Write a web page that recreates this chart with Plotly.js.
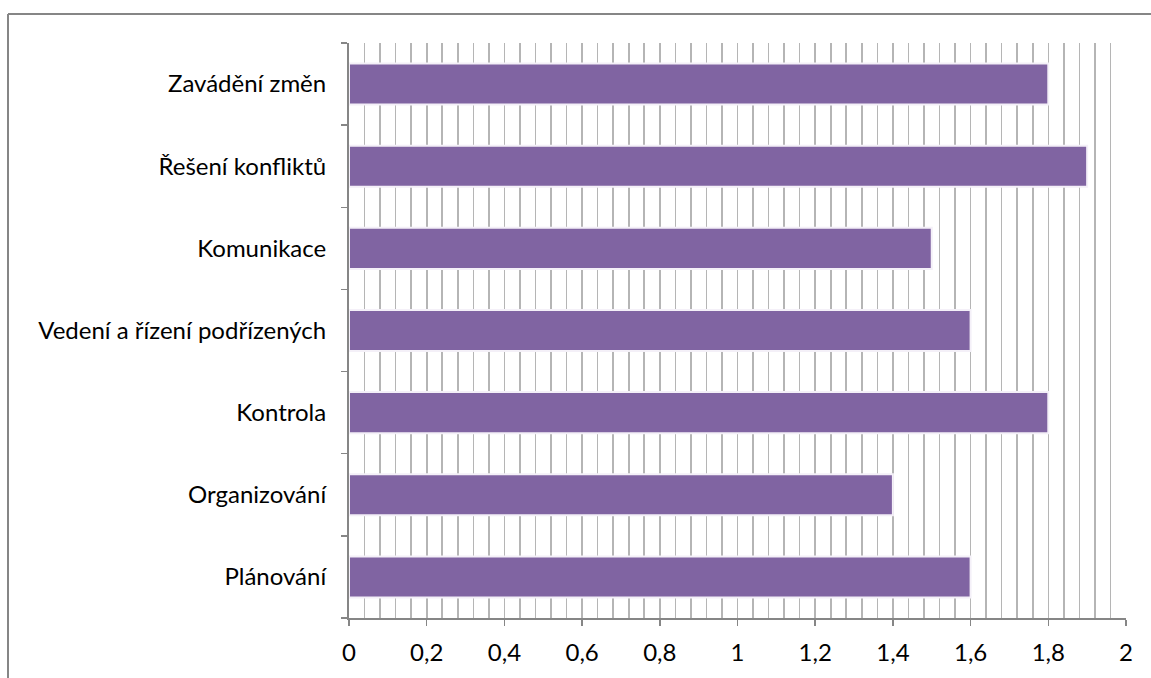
<!DOCTYPE html>
<html>
<head>
<meta charset="utf-8">
<script src="https://cdn.plot.ly/plotly-3.0.1.min.js"></script>
<style>
  html, body { margin: 0; padding: 0; background: #ffffff; }
  #chart { width: 1151px; height: 678px; }
</style>
</head>
<body>
<div id="chart"></div>
<script>
// Manažerské dovednosti – průměrné hodnocení
const categories = [
  "Plánování",
  "Organizování",
  "Kontrola",
  "Vedení a řízení podřízených",
  "Komunikace",
  "Řešení konfliktů",
  "Zavádění změn"
];
const values = [1.6, 1.4, 1.8, 1.6, 1.5, 1.9, 1.8];
const xTickValues = [0, 0.2, 0.4, 0.6, 0.8, 1, 1.2, 1.4, 1.6, 1.8, 2];

const barColor = "#8064A2";
const axisColor = "#868686";
const gridColor = "#b5b5b5";

const plotLeft = 349, plotRight = 1126, plotTop = 43, plotBottom = 618;
const W = 1151, H = 678;
const pw = plotRight - plotLeft, ph = plotBottom - plotTop;
// frame around the chart area, in paper units
const fx0 = (8 - plotLeft) / pw;
const fx1 = (1160 - plotLeft) / pw;
const fyTop = (plotBottom - 14) / ph;
const fyBot = (plotBottom - 700) / ph;

const trace = {
  type: "bar",
  orientation: "h",
  y: categories,
  x: values,
  marker: {
    color: barColor,
    line: { color: "#f4f0f8", width: 2 }
  },
  hoverinfo: "x+y"
};

const layout = {
  width: W,
  height: H,
  margin: { l: plotLeft, r: W - plotRight, t: plotTop, b: H - plotBottom, pad: 0 },
  paper_bgcolor: "#ffffff",
  plot_bgcolor: "#ffffff",
  separators: ",.",
  bargap: 0.5,
  showlegend: false,
  font: { family: "Lato, 'Open Sans', sans-serif", size: 24, color: "#000000" },
  xaxis: {
    range: [0, 2],
    tickvals: xTickValues,
    tickformat: ".1~f",
    ticks: "outside",
    ticklen: 6,
    tickwidth: 1.5,
    tickcolor: axisColor,
    showline: true,
    linecolor: axisColor,
    linewidth: 2,
    showgrid: true,
    gridcolor: gridColor,
    gridwidth: 1.6,
    minor: { dtick: 0.04, tick0: 0, showgrid: true, gridcolor: gridColor, gridwidth: 1.6, ticks: "" },
    zeroline: false,
    ticklabelstandoff: 6,
    fixedrange: true
  },
  yaxis: {
    type: "category",
    ticks: "outside",
    tickson: "boundaries",
    ticklen: 6,
    tickwidth: 1.5,
    tickcolor: axisColor,
    showline: true,
    linecolor: axisColor,
    linewidth: 2,
    showgrid: false,
    zeroline: false,
    ticklabelstandoff: 16,
    fixedrange: true
  },
  shapes: [
    { type: "line", xref: "paper", yref: "paper", x0: fx0, x1: fx1, y0: fyTop, y1: fyTop,
      line: { color: axisColor, width: 2 } },
    { type: "line", xref: "paper", yref: "paper", x0: fx0, x1: fx0, y0: fyTop, y1: fyBot,
      line: { color: axisColor, width: 2 } }
  ]
};

Plotly.newPlot("chart", [trace], layout, { displayModeBar: false, staticPlot: true });
</script>
</body>
</html>
